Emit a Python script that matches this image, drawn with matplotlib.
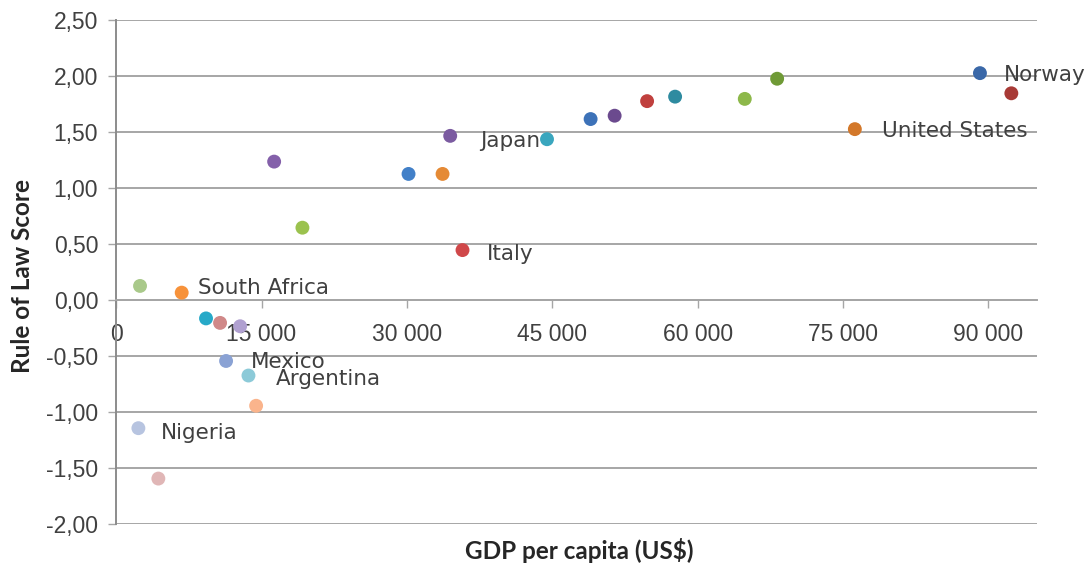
import matplotlib.pyplot as plt
from matplotlib.ticker import FuncFormatter, MultipleLocator

# GDP per capita (US$) and rule of law score per country
gdp = [2460, 6760, 9270, 10720, 12790, 11340, 13650, 14440, 2290, 4350,
       16300, 19220, 30170, 33680, 34470, 35740, 44460, 48960, 51440,
       54790, 57680, 64870, 68210, 76230, 89140, 92380]
rule_of_law = [0.13, 0.07, -0.16, -0.20, -0.23, -0.54, -0.67, -0.94, -1.14, -1.59,
               1.24, 0.65, 1.13, 1.13, 1.47, 0.45, 1.44, 1.62, 1.65,
               1.78, 1.82, 1.80, 1.98, 1.53, 2.03, 1.85]
countries = ["", "South Africa", "", "", "", "Mexico", "Argentina", "", "Nigeria", "",
             "", "", "", "", "", "Italy", "Japan", "", "",
             "", "", "", "", "United States", "Norway", ""]
colors = ["#a9c98a", "#f7923a", "#27a9c8", "#d08888", "#b0a0d0", "#8aa2d4", "#8ccad8",
          "#fab48c", "#b7c4e0", "#e0b6b6",
          "#8460aa", "#9bc24e", "#4280c8", "#e58a35", "#7b5ba0", "#d0484a", "#3aa6be",
          "#3d72b8", "#6b4a8e", "#c0403e", "#2e8ba0", "#8db84a", "#6f9a36", "#d3782a",
          "#3a68a8", "#a83a36"]

# where each data label sits relative to its dot (pixels)
label_offsets = {
    "South Africa": (16, 5, "left"),
    "Mexico": (25, -1, "left"),
    "Argentina": (27, -3, "left"),
    "Nigeria": (22, -5, "left"),
    "Italy": (24, -4, "left"),
    "Japan": (-7, -2, "right"),
    "United States": (27, -2, "left"),
    "Norway": (24, -2, "left"),
}

grid_color = "#a6a6a6"
text_color = "#404040"

fig = plt.figure(figsize=(10.89, 5.63), dpi=100)
ax = fig.add_axes([0.1067, 0.0684, 0.8453, 0.8952])

ax.scatter(gdp, rule_of_law, s=100, c=colors, linewidths=0, zorder=3)

for x, y, name in zip(gdp, rule_of_law, countries):
    if not name:
        continue
    dx, dy, ha = label_offsets[name]
    ax.annotate(name, (x, y), xytext=(dx, dy), textcoords="offset pixels",
                ha=ha, va="center", fontsize=15.5, color=text_color,
                family="DejaVu Sans", zorder=2)

ax.set_xlim(0, 95000)
ax.set_ylim(-2.0, 2.5)
ax.xaxis.set_major_locator(MultipleLocator(15000))
ax.yaxis.set_major_locator(MultipleLocator(0.5))
ax.xaxis.set_major_formatter(FuncFormatter(lambda v, p: f"{int(v):,}".replace(",", " ")))
ax.yaxis.set_major_formatter(FuncFormatter(lambda v, p: f"{v:.2f}".replace(".", ",")))

ax.grid(axis="y", color=grid_color, linewidth=1.4, zorder=0)
ax.set_axisbelow(True)

for side in ["top", "right"]:
    ax.spines[side].set_visible(False)
ax.spines["bottom"].set_position(("data", 0))
ax.spines["bottom"].set_color(grid_color)
ax.spines["bottom"].set_linewidth(1.4)
ax.spines["left"].set_color("#8c8c8c")
ax.spines["left"].set_linewidth(1.4)

ax.tick_params(axis="x", direction="out", length=6, width=1.0, color=grid_color,
               pad=10, labelsize=16.5, labelcolor=text_color)
ax.tick_params(axis="y", direction="out", length=6, width=1.0, color=grid_color,
               pad=7, labelsize=16.5, labelcolor=text_color)
for lab in ax.get_xticklabels() + ax.get_yticklabels():
    lab.set_family("Liberation Sans")

fig.text(0.5322, 0.023, "GDP per capita (US$)", ha="center", va="center",
         fontsize=17.5, fontweight="bold", family="Lato", color="#262626")
fig.text(0.0205, 0.51, "Rule of Law Score", ha="center", va="center", rotation=90,
         fontsize=17.5, fontweight="bold", family="Lato", color="#262626")

fig.savefig("out.png", dpi=100, facecolor="white")
